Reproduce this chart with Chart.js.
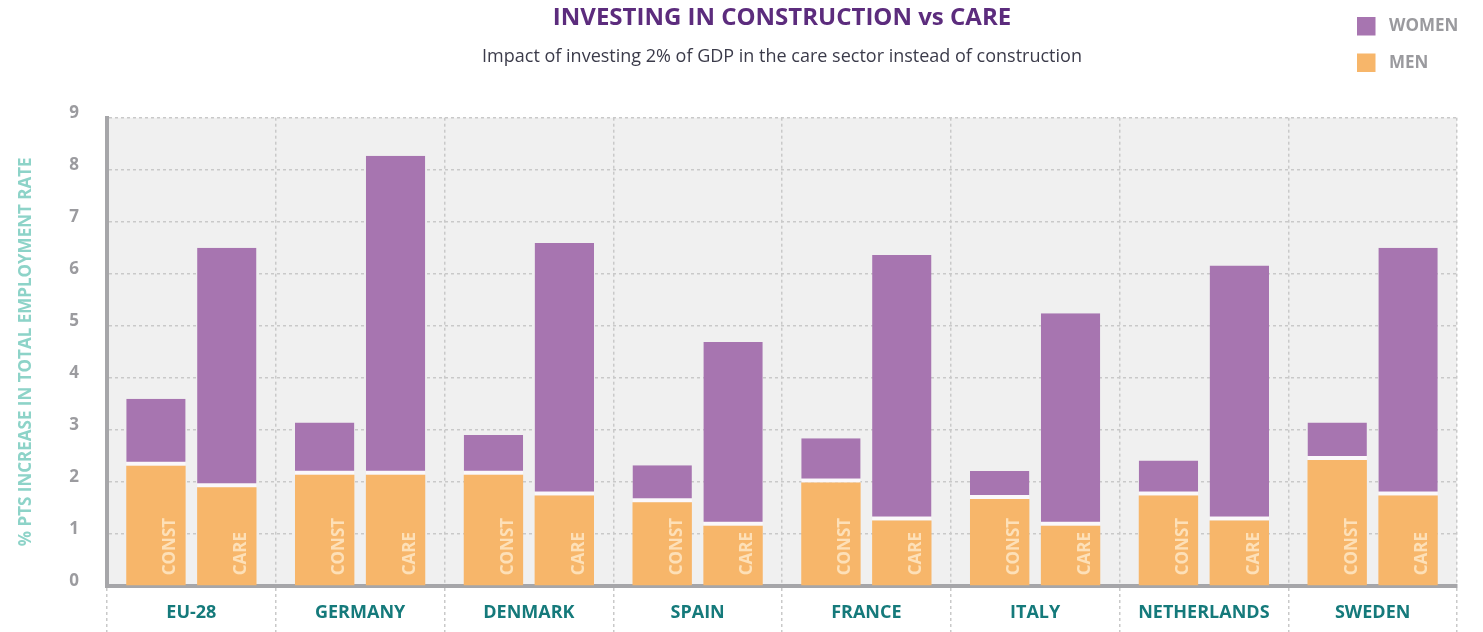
<!DOCTYPE html>
<html><head><meta charset="utf-8">
<script src="https://cdn.jsdelivr.net/npm/chart.js@4.4.0/dist/chart.umd.min.js"></script>
<style>html,body{margin:0;padding:0;background:#fff;}#wrap{width:1483px;height:632px;position:relative}</style>
</head><body><div id="wrap"><canvas id="c"></canvas></div>
<script>
const countries  = ['EU-28','GERMANY','DENMARK','SPAIN','FRANCE','ITALY','NETHERLANDS','SWEDEN'];
const menConst   = [2.31,2.14,2.14,1.61,1.99,1.67,1.74,2.42];
const womenConst = [1.29,1.00,0.76,0.71,0.85,0.54,0.67,0.72];
const menCare    = [1.90,2.14,1.74,1.16,1.26,1.16,1.26,1.74];
const womenCare  = [4.60,6.13,4.85,3.53,5.10,4.08,4.90,4.76];
const yTicks     = [0,1,2,3,4,5,6,7,8,9];
const barTags    = ['CONST','CARE'];
const legendItems = ['WOMEN','MEN'];

const FONT = "'Open Sans', sans-serif";
const PURPLE = '#a775b0', ORANGE = '#f7b66a', GRID = '#c9c9c9', AXIS = '#a6a6a9';

const bgPlugin = {
  id: 'areaBg',
  beforeDraw(chart) {
    const {ctx, chartArea: a} = chart;
    ctx.save(); ctx.fillStyle = '#f0f0f0';
    ctx.fillRect(a.left, a.top, a.right - a.left, a.bottom - a.top);
    ctx.restore();
  }
};
const tagPlugin = {
  id: 'barTags',
  afterDatasetsDraw(chart) {
    const {ctx} = chart;
    [0, 2].forEach((di, k) => {
      const meta = chart.getDatasetMeta(di);
      meta.data.forEach(bar => {
        ctx.save();
        ctx.translate(bar.x + 14.5, bar.base - 10);
        ctx.rotate(-Math.PI / 2);
        ctx.fillStyle = '#fde0b8';
        ctx.font = "bold 17px " + FONT;
        ctx.textAlign = 'left'; ctx.textBaseline = 'middle';
        ctx.fillText(barTags[k], 0, 0);
        ctx.restore();
      });
    });
  }
};
const legendPlugin = {
  id: 'customLegend',
  afterDraw(chart) {
    const {ctx} = chart;
    const cols = [PURPLE, ORANGE];
    legendItems.forEach((t, i) => {
      const y = 17 + i * 36.5;
      ctx.save();
      ctx.fillStyle = cols[i];
      ctx.fillRect(1357, y, 18.5, 18.5);
      ctx.fillStyle = '#9a9a9e';
      ctx.font = "bold 17px " + FONT;
      ctx.textAlign = 'left'; ctx.textBaseline = 'middle';
      ctx.fillText(t, 1389, y + 9.5);
      ctx.restore();
    });
  }
};

new Chart(document.getElementById('c'), {
  type: 'bar',
  data: {
    labels: countries,
    datasets: [
      {label: 'MEN', data: menConst, stack: 'const', backgroundColor: ORANGE, borderWidth: 0},
      {label: 'WOMEN', data: womenConst, stack: 'const', backgroundColor: PURPLE, borderColor: '#fbf8fb',
       borderWidth: {top: 0, left: 0, right: 0, bottom: 4}, borderSkipped: false},
      {label: 'MEN', data: menCare, stack: 'care', backgroundColor: ORANGE, borderWidth: 0},
      {label: 'WOMEN', data: womenCare, stack: 'care', backgroundColor: PURPLE, borderColor: '#fbf8fb',
       borderWidth: {top: 0, left: 0, right: 0, bottom: 4}, borderSkipped: false}
    ]
  },
  options: {
    responsive: true, maintainAspectRatio: false, animation: false,
    categoryPercentage: 0.84, barPercentage: 0.838,
    layout: {padding: {left: 0, right: 26, top: 0, bottom: 0}},
    plugins: {
      legend: {display: false}, tooltip: {enabled: false},
      title: {display: true, fullSize: false, text: 'INVESTING IN CONSTRUCTION vs CARE', color: '#5c2c7d',
              font: {family: FONT, size: 24, weight: 'bold'}, padding: {top: 4, bottom: 13.5}},
      subtitle: {display: true, fullSize: false, text: 'Impact of investing 2% of GDP in the care sector instead of construction',
              color: '#3b3b4a', font: {family: FONT, size: 18}, padding: {top: 0, bottom: 49.8}}
    },
    scales: {
      x: {
        stacked: true,
        ticks: {color: '#157a7b', font: {family: FONT, size: 18, weight: 'bold'}, padding: -30},
        grid: {color: GRID, lineWidth: 1.5, offset: true, tickLength: 46, tickColor: GRID, tickBorderDash: [3, 3], tickWidth: 1.5},
        border: {color: AXIS, width: 4, dash: [3, 3]},
        afterFit: s => { s.height = 46; }
      },
      y: {
        stacked: true, min: 0, max: 9,
        afterBuildTicks: s => { s.ticks = yTicks.map(v => ({value: v})); },
        ticks: {color: '#9b9b9f', font: {family: FONT, size: 17, weight: 'bold'}, padding: 28, labelOffset: -5},
        grid: {color: GRID, lineWidth: 1.5, drawTicks: false},
        border: {color: AXIS, width: 4, dash: [3, 3]},
        title: {display: true, text: '% PTS INCREASE IN TOTAL EMPLOYMENT RATE', color: '#8dd3c8',
                font: {family: FONT, size: 17, weight: 'bold'}, padding: {top: 16, bottom: 0}},
        afterFit: s => { s.width = 107; }
      }
    }
  },
  plugins: [bgPlugin, tagPlugin, legendPlugin]
});
</script></body></html>
